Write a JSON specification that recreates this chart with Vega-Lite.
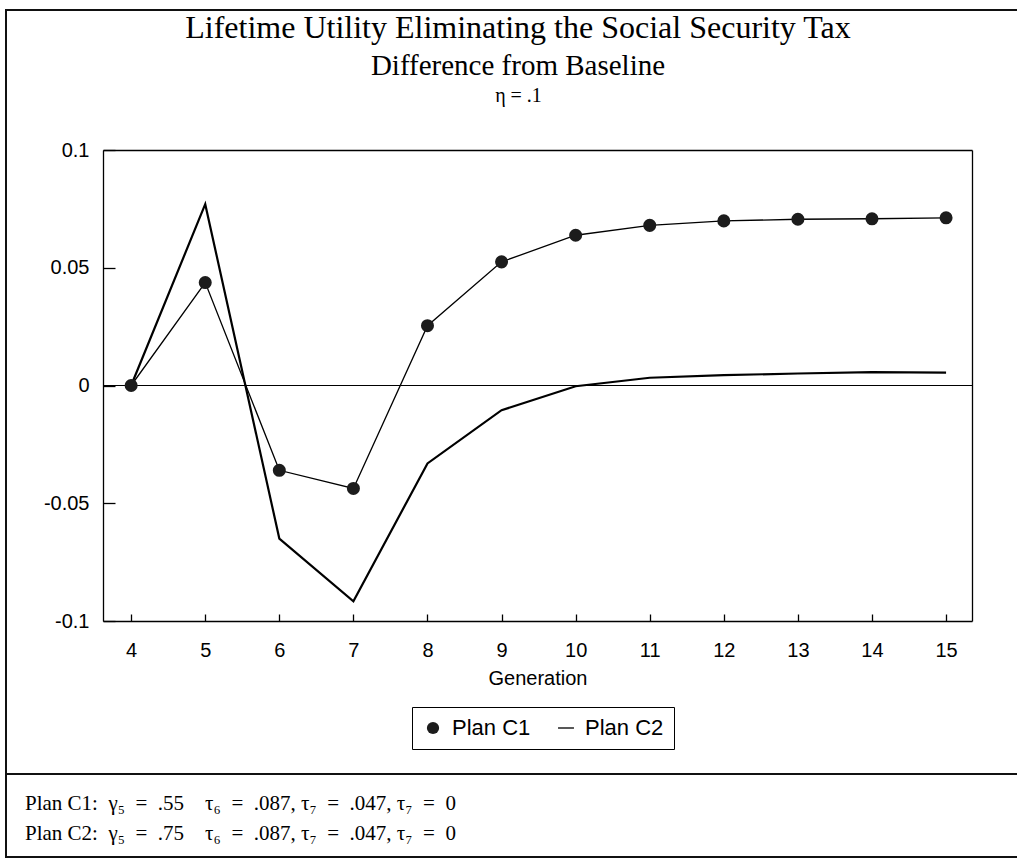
{
  "$schema": "https://vega.github.io/schema/vega-lite/v6.json",
  "background": "white",
  "padding": {"left": 5, "top": 9, "right": -10, "bottom": 0},
  "spacing": 0,
  "bounds": "flush",
  "config": {
    "view": {"stroke": "#111", "strokeWidth": 2},
    "axis": {
      "grid": false,
      "domainColor": "#000",
      "tickColor": "#000",
      "labelColor": "#000",
      "titleColor": "#000",
      "labelFont": "Liberation Sans",
      "titleFont": "Liberation Sans",
      "labelFontSize": 20,
      "titleFontSize": 20,
      "titleFontWeight": "normal",
      "domainWidth": 1.3,
      "tickWidth": 1.3
    }
  },
  "resolve": {"scale": {"x": "independent", "y": "independent"}},
  "vconcat": [
    {
      "width": 1020,
      "height": 764,
      "title": {
        "text": "Lifetime Utility Eliminating the Social Security Tax",
        "subtitle": "Difference from Baseline",
        "font": "Liberation Serif",
        "fontSize": 32,
        "fontWeight": "normal",
        "color": "#000",
        "subtitleFont": "Liberation Serif",
        "subtitleFontSize": 29,
        "subtitleColor": "#000",
        "subtitlePadding": 7,
        "anchor": "middle",
        "frame": "group",
        "offset": -72,
        "dx": 2
      },
      "data": {
        "values": [
          {"gen": 4, "plan": "Plan C1", "value": 0},
          {"gen": 5, "plan": "Plan C1", "value": 0.0437},
          {"gen": 6, "plan": "Plan C1", "value": -0.036},
          {"gen": 7, "plan": "Plan C1", "value": -0.0437},
          {"gen": 8, "plan": "Plan C1", "value": 0.0254},
          {"gen": 9, "plan": "Plan C1", "value": 0.0525},
          {"gen": 10, "plan": "Plan C1", "value": 0.0638},
          {"gen": 11, "plan": "Plan C1", "value": 0.068},
          {"gen": 12, "plan": "Plan C1", "value": 0.0699},
          {"gen": 13, "plan": "Plan C1", "value": 0.0706},
          {"gen": 14, "plan": "Plan C1", "value": 0.0708},
          {"gen": 15, "plan": "Plan C1", "value": 0.0712},
          {"gen": 4, "plan": "Plan C2", "value": 0},
          {"gen": 5, "plan": "Plan C2", "value": 0.077},
          {"gen": 6, "plan": "Plan C2", "value": -0.065},
          {"gen": 7, "plan": "Plan C2", "value": -0.0916},
          {"gen": 8, "plan": "Plan C2", "value": -0.0331},
          {"gen": 9, "plan": "Plan C2", "value": -0.0105},
          {"gen": 10, "plan": "Plan C2", "value": -0.0003},
          {"gen": 11, "plan": "Plan C2", "value": 0.0033},
          {"gen": 12, "plan": "Plan C2", "value": 0.0044},
          {"gen": 13, "plan": "Plan C2", "value": 0.0051},
          {"gen": 14, "plan": "Plan C2", "value": 0.0057},
          {"gen": 15, "plan": "Plan C2", "value": 0.0055}
        ]
      },
      "resolve": {"axis": {"x": "independent", "y": "independent"}},
      "layer": [
        {
          "data": {"values": [{"ref": 0}]},
          "mark": {"type": "rule", "color": "#000", "strokeWidth": 1.2},
          "encoding": {
            "x": {"datum": 3.62, "type": "quantitative", "scale": {"domain": [3.62, 15.35], "range": [97, 966], "nice": false, "zero": false}, "axis": null},
            "x2": {"datum": 15.35},
            "y": {"field": "ref", "type": "quantitative", "scale": {"domain": [-0.1, 0.1], "range": [611, 140], "nice": false, "zero": false}, "axis": null}
          }
        },
        {
          "transform": [{"filter": "datum.plan === 'Plan C2'"}],
          "mark": {"type": "line", "color": "#000", "strokeWidth": 2.2},
          "encoding": {
            "x": {
              "field": "gen", "type": "quantitative",
              "scale": {"domain": [3.62, 15.35], "range": [97, 966], "nice": false, "zero": false},
              "axis": {"orient": "top", "offset": -140, "ticks": false, "labels": false, "domain": true, "title": "η = .1", "titleFont": "Liberation Serif", "titleFontSize": 20, "titlePadding": 45, "titleX": 512}
            },
            "y": {
              "field": "value", "type": "quantitative",
              "scale": {"domain": [-0.1, 0.1], "range": [611, 140], "nice": false, "zero": false},
              "axis": {"orient": "right", "offset": -54, "ticks": false, "labels": false, "domain": true, "title": null}
            }
          }
        },
        {
          "transform": [{"filter": "datum.plan === 'Plan C1'"}],
          "mark": {"type": "line", "color": "#000", "strokeWidth": 1.3},
          "encoding": {
            "x": {
              "field": "gen", "type": "quantitative",
              "scale": {"domain": [3.62, 15.35], "range": [97, 966], "nice": false, "zero": false},
              "axis": {"orient": "bottom", "offset": -153, "values": [4, 5, 6, 7, 8, 9, 10, 11, 12, 13, 14, 15], "tickSize": -7, "labelPadding": 26, "labelExpr": "'' + datum.value", "title": "Generation", "titlePadding": 8}
            },
            "y": {
              "field": "value", "type": "quantitative",
              "scale": {"domain": [-0.1, 0.1], "range": [611, 140], "nice": false, "zero": false},
              "axis": {"orient": "left", "offset": -97, "values": [-0.1, -0.05, 0, 0.05, 0.1], "tickSize": -12, "labelPadding": 26, "labelExpr": "'' + datum.value", "title": null}
            }
          }
        },
        {
          "transform": [{"filter": "datum.plan === 'Plan C1'"}],
          "mark": {"type": "point", "filled": true, "color": "#1c1c1c", "size": 170, "opacity": 1},
          "encoding": {
            "x": {"field": "gen", "type": "quantitative", "scale": {"domain": [3.62, 15.35], "range": [97, 966], "nice": false, "zero": false}, "axis": null},
            "y": {"field": "value", "type": "quantitative", "scale": {"domain": [-0.1, 0.1], "range": [611, 140], "nice": false, "zero": false}, "axis": null},
            "shape": {
              "field": "plan", "type": "nominal",
              "scale": {"domain": ["Plan C1", "Plan C2"], "range": ["circle", "M-1.3,-0.12H1.3V0.12H-1.3Z"]},
              "legend": {
                "title": null,
                "orient": "none",
                "legendX": 406,
                "legendY": 697,
                "direction": "horizontal",
                "strokeColor": "#000",
                "fillColor": "white",
                "padding": 10,
                "columnPadding": 24,
                "labelFont": "Liberation Sans",
                "labelFontSize": 22,
                "labelColor": "#000",
                "labelOffset": 8,
                "symbolSize": 150,
                "symbolFillColor": "#1c1c1c",
                "symbolStrokeWidth": 0
              }
            }
          }
        }
      ]
    },
    {
      "width": 1020,
      "height": 83,
      "data": {
        "values": [
          {"line": 1, "label": "Plan C1:\u00a0\u00a0γ₅\u2002=\u2002.55\u00a0\u00a0\u00a0\u00a0τ₆\u2002=\u2002.087,\u00a0τ₇\u2002=\u2002.047,\u00a0τ₇\u2002=\u20020"},
          {"line": 2, "label": "Plan C2:\u00a0\u00a0γ₅\u2002=\u2002.75\u00a0\u00a0\u00a0\u00a0τ₆\u2002=\u2002.087,\u00a0τ₇\u2002=\u2002.047,\u00a0τ₇\u2002=\u20020"}
        ]
      },
      "mark": {"type": "text", "align": "left", "baseline": "middle", "font": "Liberation Serif", "fontSize": 21, "color": "#000"},
      "encoding": {
        "text": {"field": "label"},
        "x": {"datum": 0, "type": "quantitative", "scale": {"domain": [0, 1], "range": [19, 1000]}, "axis": null},
        "y": {"field": "line", "type": "quantitative", "scale": {"domain": [1, 2], "range": [30, 60]}, "axis": null}
      }
    }
  ]
}
